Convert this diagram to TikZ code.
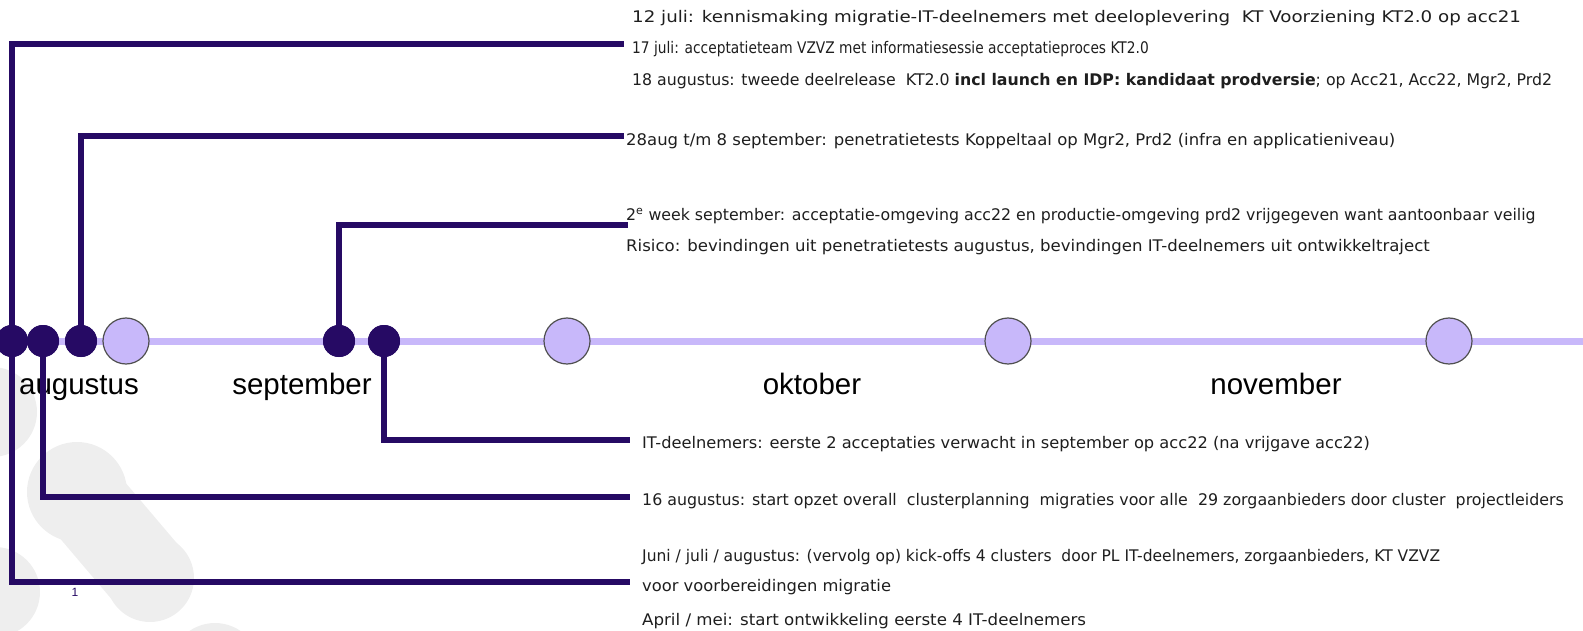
\documentclass[tikz,border=0pt]{standalone}
\usepackage{fontspec}
\setmainfont{DejaVu Sans}
\newfontfamily\monthfont{Liberation Sans}
\usepackage{tikz}

\definecolor{tlpurple}{RGB}{38,10,100}
\definecolor{tllav}{RGB}{200,184,250}
\definecolor{tlring}{RGB}{80,80,80}
\definecolor{tlblob}{RGB}{238,238,238}
\definecolor{tltext}{RGB}{30,30,30}

% horizontal stretch of one text line
\newcommand{\hs}[2]{\scalebox{#1}[1]{#2}}

\tikzset{
    evdot/.style={circle, fill=tlpurple, inner sep=0pt, minimum size=32pt},
    monthdot/.style={circle, draw=tlring, line width=1.2pt, fill=tllav, inner sep=0pt, minimum size=46pt},
    evline/.style={draw=tlpurple, line width=6pt},
    evtext/.style={anchor=base west, inner sep=0pt, text=tltext, font=\fontsize{16}{18}\selectfont},
    monthlabel/.style={anchor=base, inner sep=0pt, font=\monthfont\fontsize{29.5}{32}\selectfont}
}

\begin{document}
\begin{tikzpicture}[x=1pt, y=-1pt]
    \useasboundingbox (0, 0) rectangle (1583, 631);
    	% Watermark blobs:
    	\begin{scope}
    	\clip (0, 0) rectangle (1583, 631);
    	\fill[tlblob] (-8, 412) circle (45);
    	\fill[tlblob] (77, 492) circle (50);
    	\fill[tlblob] (150, 578) circle (44);
    	\draw[tlblob, line width=86pt] (77, 492) -- (150, 578);
    	\fill[tlblob] (-5, 592) circle (45);
    	\fill[tlblob] (215, 668) circle (45);
    	\end{scope}
    	% Timeline and months:
    	\coordinate (tlstart) at (0, 341);
    	\coordinate (tlend) at (1583, 341);
    	\draw[tllav, line width=7pt] (tlstart) -- (tlend);
    	\node[monthdot] (aug) at (126, 341){};
    	\node[monthdot] (sep) at (567, 341){};
    	\node[monthdot] (okt) at (1008, 341){};
    	\node[monthdot] (nov) at (1449, 341){};
    	\node[monthlabel] (auglbl) at (79, 394){augustus};
    	\node[monthlabel] (seplbl) at (302, 394){september};
    	\node[monthlabel] (oktlbl) at (812, 394){oktober};
    	\node[monthlabel] (novlbl) at (1276, 394){november};
    	% Event dots:
    	\node[evdot] (kick) at (12, 341){};
    	\node[evdot] (plan) at (43, 341){};
    	\node[evdot] (pentest) at (81, 341){};
    	\node[evdot] (release) at (339, 341){};
    	\node[evdot] (accept) at (384, 341){};
    	% Line ends:
    	\coordinate (kicktop) at (624, 44);
    	\coordinate (kickbot) at (630, 582);
    	\coordinate (planend) at (630, 497);
    	\coordinate (pentestend) at (624, 136);
    	\coordinate (releaseend) at (628, 225);
    	\coordinate (acceptend) at (630, 440);
    	% Connectors:
    	\draw[evline] (kick.center) |- (kicktop);
    	\draw[evline] (kick.center) |- (kickbot);
    	\draw[evline] (plan.center) |- (planend);
    	\draw[evline] (pentest.center) |- (pentestend);
    	\draw[evline] (release.center) |- (releaseend);
    	\draw[evline] (accept.center) |- (acceptend);
    	\node[evdot] at (kick){};
    	\node[evdot] at (plan){};
    	\node[evdot] at (pentest){};
    	\node[evdot] at (release){};
    	\node[evdot] at (accept){};
    	% Texts:
    	\node[evtext] (t1) at (632, 23){\hs{1.14}{12 juli: kennismaking migratie-IT-deelnemers met deeloplevering\ \ KT Voorziening KT2.0 op acc21}};
    	\node[evtext] (t2) at (632, 54){\hs{0.86}{17 juli: acceptatieteam VZVZ met informatiesessie acceptatieproces KT2.0}};
    	\node[evtext] (t3) at (632, 86){\hs{0.985}{18 augustus: tweede deelrelease\ \ KT2.0 \textbf{incl launch en IDP: kandidaat prodversie}; op Acc21, Acc22, Mgr2, Prd2}};
    	\node[evtext] (t4) at (626, 146){\hs{1.03}{28aug t/m 8 september: penetratietests Koppeltaal op Mgr2, Prd2 (infra en applicatieniveau)}};
    	\node[evtext] (t5) at (626, 221){\hs{0.985}{2\textsuperscript{e} week september: acceptatie-omgeving acc22 en productie-omgeving prd2 vrijgegeven want aantoonbaar veilig}};
    	\node[evtext] (t6) at (626, 252){\hs{1.035}{Risico: bevindingen uit penetratietests augustus, bevindingen IT-deelnemers uit ontwikkeltraject}};
    	\node[evtext] (t7) at (642, 448){\hs{1.015}{IT-deelnemers: eerste 2 acceptaties verwacht in september op acc22 (na vrijgave acc22)}};
    	\node[evtext] (t8) at (642, 505){\hs{0.99}{16 augustus: start opzet overall\ \ clusterplanning\ \ migraties voor alle\ \ 29 zorgaanbieders door cluster\ \ projectleiders}};
    	\node[evtext] (t9) at (642, 561){\hs{0.97}{Juni / juli / augustus: (vervolg op) kick-offs 4 clusters\ \ door PL IT-deelnemers, zorgaanbieders, KT VZVZ}};
    	\node[evtext] (t10) at (642, 591){\hs{1.02}{voor voorbereidingen migratie}};
    	\node[evtext] (t11) at (642, 625){\hs{1.04}{April / mei: start ontwikkeling eerste 4 IT-deelnemers}};
    	% Page number:
    	\node[text=tlpurple, font=\monthfont\fontsize{12}{14}\selectfont] (pagenr) at (75, 592){1};
\end{tikzpicture}
\end{document}
